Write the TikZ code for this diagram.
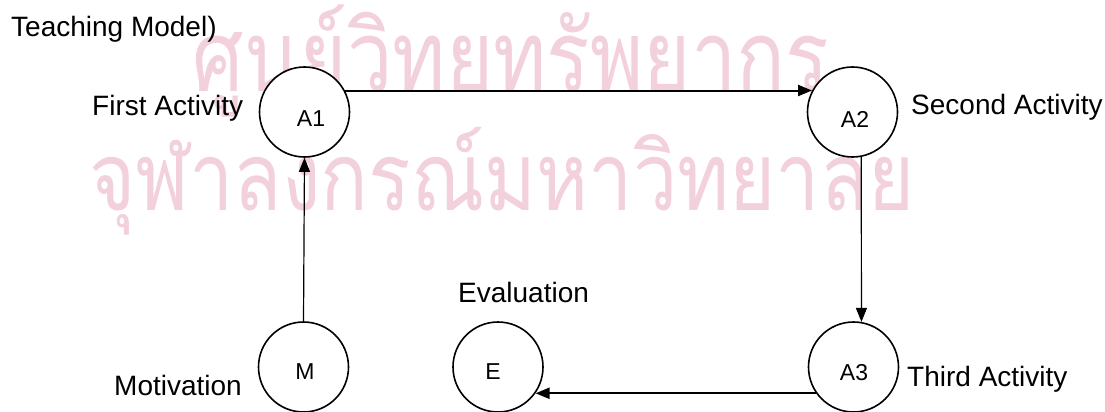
\documentclass[tikz,border=0pt]{standalone}
\usepackage{fontspec}
\usepackage{graphicx}
\setmainfont{Liberation Sans}
\newfontfamily\thaifont[Script=Thai]{Loma}
\usetikzlibrary{arrows.meta,calc}

\definecolor{stamp}{RGB}{242,208,220}

\tikzset{
  stage/.style={circle, draw, line width=1.6pt, fill=white, minimum size=90pt, inner sep=0pt},
  tag/.style={inner sep=0pt, font=\fontsize{23}{23}\selectfont},
  caption/.style={inner sep=0pt, anchor=base west, font=\fontsize{28}{28}\selectfont},
  stamptext/.style={inner sep=0pt, anchor=base, text=stamp, font=\thaifont\fontsize{81}{81}\selectfont},
  flow/.style={-{Triangle[length=14pt,width=11pt]}, line width=2pt},
  thinflow/.style={-{Triangle[length=14pt,width=11pt]}, line width=1.2pt}
}

\begin{document}
\begin{tikzpicture}[x=1pt, y=-1pt]
\useasboundingbox (0,0) rectangle (1105,412);
\fill[white] (0,0) rectangle (1105,412);

% background stamp, drawn first so the stages cover it
\node[stamptext] (st1) at (511,92) {\scalebox{1}[1.22]{ศูนย์วิทยทรัพยากร}};
\node[stamptext, font=\thaifont\fontsize{79}{79}\selectfont] (st2) at (502,210) {\scalebox{1}[1.2]{จุฬาลงกรณ์มหาวิทยาลัย}};

% stages
\node[stage] (A1) at (304.5,112) {};
\node[stage] (A2) at (852.5,112) {};
\node[stage] (A3) at (853.5,367) {};
\node[stage] (M)  at (303.5,367) {};
\node[stage] (E)  at (498,367) {};

\node[tag] (tA1) at (311,119) {A1};
\node[tag] (tA2) at (855,119) {A2};
\node[tag] (tA3) at (854,373) {A3};
\node[tag] (tM)  at (305,372) {M};
\node[tag] (tE)  at (493,372) {E};

% connectors
\draw[flow] (A1.28) -- (A2.152);
\draw[thinflow] (A2.-79) -- (A3.80);
\draw[flow] (A3.215) -- (E.325);
\draw[thinflow] (M.north) -- (A1.south);

% captions
\node[caption] (title) at (11,37) {Teaching Model)};
\node[caption] (c1) at (92,115) {First Activity};
\node[caption] (c2) at (911,114) {Second Activity};
\node[caption] (c3) at (907,386) {Third Activity};
\node[caption] (c4) at (458,302) {Evaluation};
\node[caption] (c5) at (114,395) {Motivation};
\end{tikzpicture}
\end{document}
